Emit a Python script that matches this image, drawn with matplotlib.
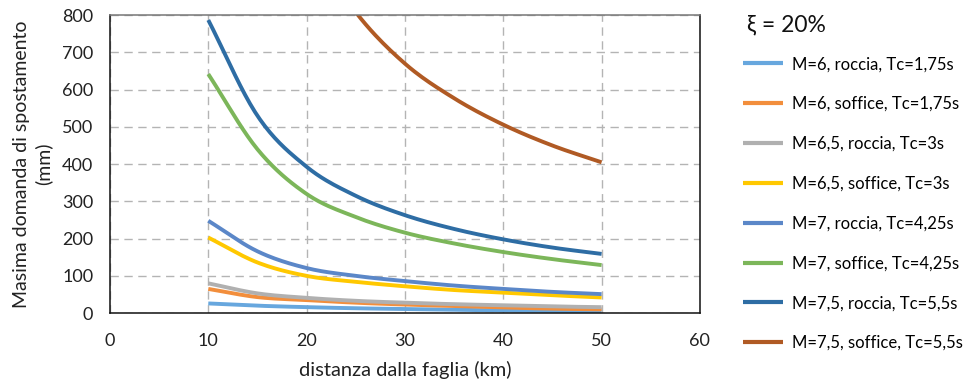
import matplotlib
matplotlib.use("Agg")
import matplotlib.pyplot as plt
import numpy as np

plt.rcParams['font.family'] = ['Lato', 'DejaVu Sans']

# distanza dalla faglia (km)
dist = [10, 15, 20, 25, 30, 35, 40, 45, 50]

m6_roccia = [26, 20, 16, 13, 11, 9, 7, 6, 5]
m6_soffice = [65, 43, 35, 28, 23, 19, 15, 12, 10]
m65_roccia = [80, 53, 41, 33, 28, 24, 21, 18, 16]
m65_soffice = [203, 136, 100, 84, 72, 62, 55, 48, 42]
m7_roccia = [248, 166, 121, 100, 86, 74, 65, 57, 51]
m7_soffice = [642, 440, 320, 258, 216, 187, 164, 145, 129]
m75_roccia = [787, 530, 393, 315, 263, 226, 198, 176, 159]
m75_soffice = [2000, 1340, 1010, 808, 670, 577, 506, 450, 405]

labels = ['M=6, roccia, Tc=1,75s', 'M=6, soffice, Tc=1,75s',
          'M=6,5, roccia, Tc=3s', 'M=6,5, soffice, Tc=3s',
          'M=7, roccia, Tc=4,25s', 'M=7, soffice, Tc=4,25s',
          'M=7,5, roccia, Tc=5,5s', 'M=7,5, soffice, Tc=5,5s']
series = [m6_roccia, m6_soffice, m65_roccia, m65_soffice,
          m7_roccia, m7_soffice, m75_roccia, m75_soffice]
colors = ['#67A7DE', '#F28E3C', '#B0B0B0', '#FFC800',
          '#5B87C8', '#7CB65A', '#2E6DA4', '#B05A24']

fig = plt.figure(figsize=(9.8, 3.8), dpi=100)
ax = fig.add_axes([0.1122, 0.176, 0.6020, 0.784])

# curve smussate tipo Excel (solo resa grafica tra i punti letti)
def smooth(x, y, n=20):
    x = np.asarray(x, float)
    y = np.asarray(y, float)
    xs, ys = [], []
    m = len(x)
    for i in range(m - 1):
        p0 = y[i - 1] if i > 0 else 2 * y[i] - y[i + 1]
        p3 = y[i + 2] if i + 2 < m else 2 * y[i + 1] - y[i]
        p1, p2 = y[i], y[i + 1]
        t = np.linspace(0, 1, n, endpoint=False)
        yy = 0.5 * ((2 * p1) + (-p0 + p2) * t + (2 * p0 - 5 * p1 + 4 * p2 - p3) * t**2
                    + (-p0 + 3 * p1 - 3 * p2 + p3) * t**3)
        xs.extend(x[i] + (x[i + 1] - x[i]) * t)
        ys.extend(yy)
    xs.append(x[-1])
    ys.append(y[-1])
    return xs, ys

for s, lab, c in zip(series, labels, colors):
    xs, ys = smooth(dist, s)
    ax.plot(xs, ys, color=c, lw=2.8, label=lab, solid_capstyle='butt')

ax.set_xlim(0, 60)
ax.set_ylim(0, 800)
ax.set_xticks(np.arange(0, 61, 10))
ax.set_yticks(np.arange(0, 801, 100))
ax.grid(True, color='#b4b4b4', linestyle=(0, (6, 4)), lw=1.0)
ax.tick_params(length=0, labelsize=13, colors='#222222')
ax.tick_params(axis='x', pad=14)
ax.tick_params(axis='y', pad=12)
for side in ['left', 'bottom', 'right']:
    ax.spines[side].set_color('#111111')
    ax.spines[side].set_linewidth(1.1)
ax.spines['top'].set_color('#777777')
ax.spines['top'].set_linewidth(1.1)

ax.set_xlabel('distanza dalla faglia (km)', fontsize=14.5, color='#222222', labelpad=9)
ax.set_ylabel('Masima domanda di spostamento\n(mm)', fontsize=14, color='#222222',
              labelpad=7, linespacing=1.3)

leg = fig.legend(loc='upper left', bbox_to_anchor=(0.758, 0.852), frameon=False,
                 fontsize=12, handlelength=2.4, handletextpad=0.55,
                 labelspacing=1.43, borderaxespad=0, borderpad=0)
for l in leg.get_lines():
    l.set_linewidth(3)
fig.text(0.762, 0.935, 'ξ = 20%', fontsize=16.5, va='center', ha='left', color='#111111')

fig.savefig('out.png', dpi=100)
